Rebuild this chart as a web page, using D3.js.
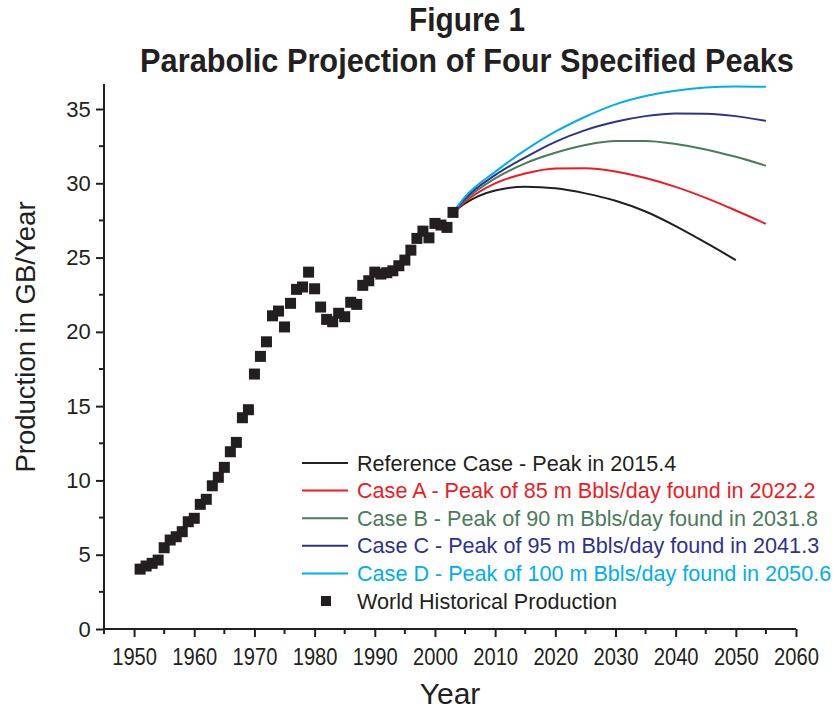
<!DOCTYPE html>
<html>
<head>
<meta charset="utf-8">
<script src="https://cdn.jsdelivr.net/npm/d3@7"></script>
<style>
  html, body { margin: 0; padding: 0; background: #fff; }
  svg { display: block; }
</style>
</head>
<body>
<div id="chart"></div>
<script>
// historical production, one point a year, GB/year
const histYears = d3.range(1951, 2004);
const histValues = [
  4.03, 4.24, 4.42, 4.64, 5.47, 5.99, 6.21, 6.55, 7.22, 7.45,
  8.39, 8.73, 9.64, 10.21, 10.88, 11.93, 12.56, 14.22, 14.76, 17.16,
  18.35, 19.33, 21.08, 21.40, 20.33, 21.92, 22.86, 23.02, 24.02, 22.90,
  21.67, 20.84, 20.68, 21.25, 21.02, 21.99, 21.85, 23.13, 23.44, 24.02,
  23.89, 23.98, 24.11, 24.45, 24.83, 25.50, 26.29, 26.78, 26.33, 27.30,
  27.19, 27.03, 28.04
];

// projection curves
const projYears = [2003, 2005, 2010, 2015, 2020, 2025, 2030, 2035, 2040, 2045, 2050, 2055];
const refCase = [28.04, 28.65, 29.52, 29.77, 29.66, 29.32, 28.82, 28.10, 27.12, 26.00, 24.83, null];
const caseA = [28.04, 28.76, 29.99, 30.66, 31.00, 31.02, 30.80, 30.36, 29.76, 29.02, 28.17, 27.27];
const caseB = [28.04, 28.87, 30.33, 31.34, 32.05, 32.57, 32.84, 32.84, 32.64, 32.28, 31.78, 31.18];
const caseC = [28.04, 28.98, 30.55, 31.74, 32.79, 33.58, 34.14, 34.52, 34.70, 34.68, 34.52, 34.20];
const caseD = [28.04, 29.09, 30.77, 32.23, 33.47, 34.48, 35.31, 35.87, 36.23, 36.45, 36.52, 36.50];

const seriesNames = [
  'Reference Case - Peak in 2015.4',
  'Case A - Peak of 85 m Bbls/day found in 2022.2',
  'Case B - Peak of 90 m Bbls/day found in 2031.8',
  'Case C - Peak of 95 m Bbls/day found in 2041.3',
  'Case D - Peak of 100 m Bbls/day found in 2050.6'
];
const seriesColors = ['#231f20', '#ed1c24', '#4a7c59', '#2e3192', '#00aeef'];
const histName = 'World Historical Production';

const xTicks = d3.range(1950, 2061, 10);
const yTicks = d3.range(0, 36, 5);

const width = 838, height = 711;
const font = 'Liberation Sans, Arial, Helvetica, sans-serif';
const ink = '#231f20';
const svg = d3.select('#chart').append('svg')
  .attr('width', width).attr('height', height);

const x = d3.scaleLinear().domain([1945, 2060]).range([104, 796]);
const y = d3.scaleLinear().domain([0, 35]).range([629, 109]);
const yTop = 84;

// squeeze a text horizontally to a given width (narrow-font look)
function squeeze(textSel, cx, cy, targetW) {
  const w = textSel.node().getComputedTextLength();
  textSel.attr('x', 0).attr('y', 0)
    .attr('transform', `translate(${cx},${cy}) scale(${targetW / w},1)`);
}

// title
const t1 = svg.append('text').attr('text-anchor', 'middle').attr('font-family', font)
  .attr('font-weight', 'bold').attr('font-size', 33).attr('fill', ink).text('Figure 1');
squeeze(t1, 467, 31, 116);
const t2 = svg.append('text').attr('text-anchor', 'middle').attr('font-family', font)
  .attr('font-weight', 'bold').attr('font-size', 33).attr('fill', ink)
  .text('Parabolic Projection of Four Specified Peaks');
squeeze(t2, 467, 72, 654);

// axes
const xAxis = svg.append('g').attr('transform', `translate(0,${y(0)})`);
xAxis.call(d3.axisBottom(x).tickValues(xTicks).tickFormat(d3.format('d')).tickSize(8).tickSizeOuter(0));
xAxis.append('g').selectAll('line').data(d3.range(1945, 2061, 10)).join('line')
  .attr('x1', d => x(d)).attr('x2', d => x(d)).attr('y1', 0).attr('y2', 5)
  .attr('stroke', ink).attr('stroke-width', 2);
xAxis.select('.domain').attr('d', `M${x(1945)},0H${x(2060)}`);
xAxis.selectAll('.tick text').attr('font-family', font)
  .attr('font-size', 24).attr('fill', ink)
  .attr('y', 0).attr('dy', 0)
  .attr('transform', 'translate(0,36) scale(0.84,1)');

const yAxis = svg.append('g').attr('transform', `translate(${x(1945)},0)`);
yAxis.call(d3.axisLeft(y).tickValues(yTicks).tickSize(8).tickSizeOuter(0));
yAxis.append('g').selectAll('line').data(d3.range(2.5, 36, 5)).join('line')
  .attr('x1', 0).attr('x2', -5).attr('y1', d => y(d)).attr('y2', d => y(d))
  .attr('stroke', ink).attr('stroke-width', 2);
yAxis.select('.domain').attr('d', `M0,${y(0)}V${yTop}`);
yAxis.selectAll('text').attr('font-family', font)
  .attr('font-size', 22).attr('fill', ink).attr('dx', '-0.1em');

svg.selectAll('.domain, .tick line').attr('stroke', ink).attr('stroke-width', 2);

// axis titles
svg.append('text').attr('x', 450).attr('y', 704)
  .attr('text-anchor', 'middle').attr('font-family', font)
  .attr('font-size', 30).attr('fill', ink).text('Year');
svg.append('text').attr('transform', 'translate(35,337) rotate(-90)')
  .attr('text-anchor', 'middle').attr('font-family', font)
  .attr('font-size', 27.5).attr('fill', ink).text('Production in GB/Year');

// projection lines
const projSeries = [refCase, caseA, caseB, caseC, caseD];
const line = d3.line()
  .defined(d => d[1] != null)
  .x(d => x(d[0])).y(d => y(d[1]))
  .curve(d3.curveMonotoneX);
projSeries.forEach((vals, i) => {
  svg.append('path')
    .datum(projYears.map((yr, j) => [yr, vals[j]]))
    .attr('d', line).attr('fill', 'none')
    .attr('stroke', seriesColors[i]).attr('stroke-width', 2);
});

// historical squares
const sq = 11;
svg.append('g').selectAll('rect').data(histYears.map((yr, i) => [yr, histValues[i]])).join('rect')
  .attr('x', d => x(d[0]) - sq / 2).attr('y', d => y(d[1]) - sq / 2)
  .attr('width', sq).attr('height', sq).attr('fill', ink);

// legend
const leg = svg.append('g').attr('transform', 'translate(302,463)');
const rowH = 27.6;
const legSize = 21.6;
seriesNames.forEach((name, i) => {
  const g = leg.append('g').attr('transform', `translate(0,${i * rowH})`);
  g.append('line').attr('x1', 0).attr('x2', 46).attr('y1', 0).attr('y2', 0)
    .attr('stroke', seriesColors[i]).attr('stroke-width', 2);
  g.append('text').attr('x', 55).attr('y', 0).attr('dy', '0.35em')
    .attr('font-family', font).attr('font-size', legSize)
    .attr('fill', seriesColors[i]).text(name);
});
const hg = leg.append('g').attr('transform', `translate(0,${5 * rowH})`);
hg.append('rect').attr('x', 19).attr('y', -5).attr('width', 10).attr('height', 10).attr('fill', ink);
hg.append('text').attr('x', 55).attr('y', 0).attr('dy', '0.35em')
  .attr('font-family', font).attr('font-size', legSize)
  .attr('fill', ink).text(histName);
</script>
</body>
</html>
